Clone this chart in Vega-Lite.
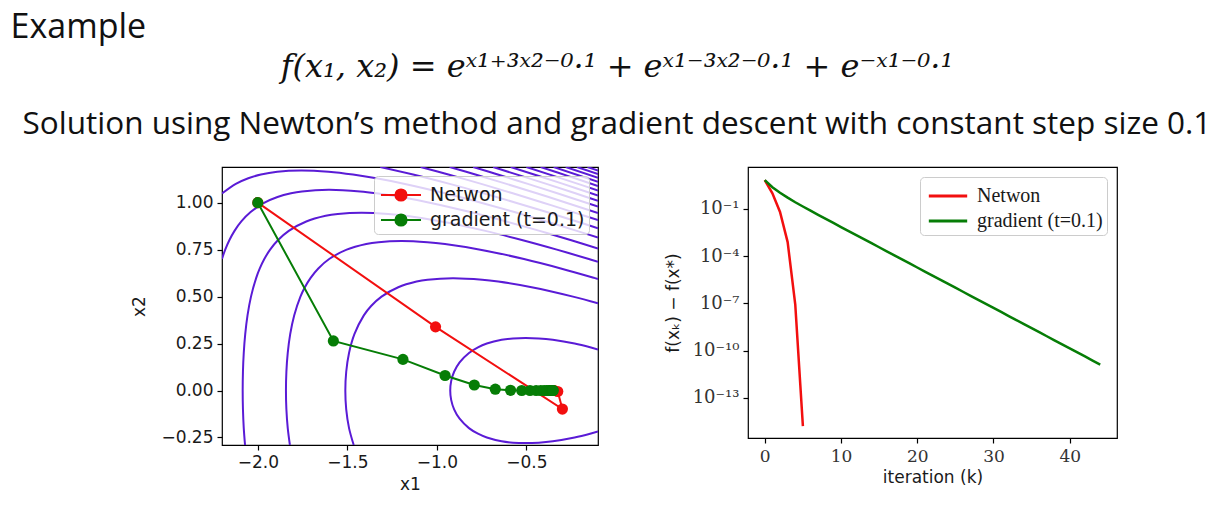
{
"$schema": "https://vega.github.io/schema/vega-lite/v6.json",
"background": "white",
"padding": {"left": 10, "top": 10, "right": 4, "bottom": 4},
"config": {
  "view": {"stroke": "black", "strokeWidth": 1.2},
  "axis": {"domain": false, "grid": false, "tickColor": "black", "tickSize": 5, "tickWidth": 1.2, "labelColor": "#1a1a1a", "titleColor": "#1a1a1a", "titleFontWeight": "normal", "labelFont": "DejaVu Sans", "titleFont": "DejaVu Sans", "labelFontSize": 17, "titleFontSize": 17},
  "title": {"fontWeight": "normal", "color": "#111111"}
},
"datasets": {
  "contours": [
    {"level":3,"i":1,"x1":-0.1,"x2":0.218},{"level":3,"i":2,"x1":-0.144,"x2":0.23},{"level":3,"i":3,"x1":-0.2306,"x2":0.25},{"level":3,"i":4,"x1":-0.3523,"x2":0.27},{"level":3,"i":5,"x1":-0.431,"x2":0.2775},{"level":3,"i":6,"x1":-0.505,"x2":0.28},{"level":3,"i":7,"x1":-0.5747,"x2":0.2775},{"level":3,"i":8,"x1":-0.6382,"x2":0.27},{"level":3,"i":9,"x1":-0.7209,"x2":0.25},{"level":3,"i":10,"x1":-0.7704,"x2":0.23},{"level":3,"i":11,"x1":-0.8206,"x2":0.2},{"level":3,"i":12,"x1":-0.8729,"x2":0.15},{"level":3,"i":13,"x1":-0.9036,"x2":0.1},{"level":3,"i":14,"x1":-0.9201,"x2":0.05},{"level":3,"i":15,"x1":-0.9253,"x2":0},{"level":3,"i":16,"x1":-0.9201,"x2":-0.05},{"level":3,"i":17,"x1":-0.9036,"x2":-0.1},{"level":3,"i":18,"x1":-0.8729,"x2":-0.15},{"level":3,"i":19,"x1":-0.8206,"x2":-0.2},{"level":3,"i":20,"x1":-0.7704,"x2":-0.23},{"level":3,"i":21,"x1":-0.7209,"x2":-0.25},{"level":3,"i":22,"x1":-0.6382,"x2":-0.27},{"level":3,"i":23,"x1":-0.5747,"x2":-0.2775},{"level":3,"i":24,"x1":-0.505,"x2":-0.28},{"level":3,"i":25,"x1":-0.431,"x2":-0.2775},{"level":3,"i":26,"x1":-0.3523,"x2":-0.27},{"level":3,"i":27,"x1":-0.2306,"x2":-0.25},{"level":3,"i":28,"x1":-0.144,"x2":-0.23},{"level":3,"i":29,"x1":-0.1,"x2":-0.218},
    {"level":4.5,"i":1,"x1":-1.4643,"x2":-0.29},{"level":4.5,"i":2,"x1":-1.4905,"x2":-0.2},{"level":4.5,"i":3,"x1":-1.5062,"x2":-0.1},{"level":4.5,"i":4,"x1":-1.5112,"x2":0},{"level":4.5,"i":5,"x1":-1.5062,"x2":0.1},{"level":4.5,"i":6,"x1":-1.4905,"x2":0.2},{"level":4.5,"i":7,"x1":-1.4605,"x2":0.3},{"level":4.5,"i":8,"x1":-1.4079,"x2":0.4},{"level":4.5,"i":9,"x1":-1.3672,"x2":0.45},{"level":4.5,"i":10,"x1":-1.309,"x2":0.5},{"level":4.5,"i":11,"x1":-1.2156,"x2":0.55},{"level":4.5,"i":12,"x1":-1.1132,"x2":0.58},{"level":4.5,"i":13,"x1":-1.0521,"x2":0.59},{"level":4.5,"i":14,"x1":-0.9109,"x2":0.598},{"level":4.5,"i":15,"x1":-0.7465,"x2":0.59},{"level":4.5,"i":16,"x1":-0.6572,"x2":0.58},{"level":4.5,"i":17,"x1":-0.4706,"x2":0.55},{"level":4.5,"i":18,"x1":-0.2396,"x2":0.5},{"level":4.5,"i":19,"x1":-0.1,"x2":0.4643},
    {"level":6,"i":1,"x1":-1.8208,"x2":-0.29},{"level":6,"i":2,"x1":-1.8328,"x2":-0.2},{"level":6,"i":3,"x1":-1.8404,"x2":-0.1},{"level":6,"i":4,"x1":-1.8428,"x2":0},{"level":6,"i":5,"x1":-1.8404,"x2":0.1},{"level":6,"i":6,"x1":-1.8328,"x2":0.2},{"level":6,"i":7,"x1":-1.8191,"x2":0.3},{"level":6,"i":8,"x1":-1.7969,"x2":0.4},{"level":6,"i":9,"x1":-1.7619,"x2":0.5},{"level":6,"i":10,"x1":-1.7371,"x2":0.55},{"level":6,"i":11,"x1":-1.705,"x2":0.6},{"level":6,"i":12,"x1":-1.6621,"x2":0.65},{"level":6,"i":13,"x1":-1.6014,"x2":0.7},{"level":6,"i":14,"x1":-1.5037,"x2":0.75},{"level":6,"i":15,"x1":-1.3946,"x2":0.78},{"level":6,"i":16,"x1":-1.3257,"x2":0.79},{"level":6,"i":17,"x1":-1.1986,"x2":0.7963},{"level":6,"i":18,"x1":-1.053,"x2":0.79},{"level":6,"i":19,"x1":-0.9547,"x2":0.78},{"level":6,"i":20,"x1":-0.7573,"x2":0.75},{"level":6,"i":21,"x1":-0.5135,"x2":0.7},{"level":6,"i":22,"x1":-0.3079,"x2":0.65},{"level":6,"i":23,"x1":-0.122,"x2":0.6},{"level":6,"i":24,"x1":-0.1,"x2":0.5938},
    {"level":7.5,"i":1,"x1":-2.0713,"x2":-0.29},{"level":7.5,"i":2,"x1":-2.0785,"x2":-0.2},{"level":7.5,"i":3,"x1":-2.083,"x2":-0.1},{"level":7.5,"i":4,"x1":-2.0845,"x2":0},{"level":7.5,"i":5,"x1":-2.083,"x2":0.1},{"level":7.5,"i":6,"x1":-2.0785,"x2":0.2},{"level":7.5,"i":7,"x1":-2.0703,"x2":0.3},{"level":7.5,"i":8,"x1":-2.0575,"x2":0.4},{"level":7.5,"i":9,"x1":-2.0381,"x2":0.5},{"level":7.5,"i":10,"x1":-2.0089,"x2":0.6},{"level":7.5,"i":11,"x1":-1.9889,"x2":0.65},{"level":7.5,"i":12,"x1":-1.9637,"x2":0.7},{"level":7.5,"i":13,"x1":-1.9313,"x2":0.75},{"level":7.5,"i":14,"x1":-1.8881,"x2":0.8},{"level":7.5,"i":15,"x1":-1.8271,"x2":0.85},{"level":7.5,"i":16,"x1":-1.7294,"x2":0.9},{"level":7.5,"i":17,"x1":-1.6209,"x2":0.93},{"level":7.5,"i":18,"x1":-1.5533,"x2":0.94},{"level":7.5,"i":19,"x1":-1.4217,"x2":0.9467},{"level":7.5,"i":20,"x1":-1.2702,"x2":0.94},{"level":7.5,"i":21,"x1":-1.1729,"x2":0.93},{"level":7.5,"i":22,"x1":-0.9751,"x2":0.9},{"level":7.5,"i":23,"x1":-0.729,"x2":0.85},{"level":7.5,"i":24,"x1":-0.5201,"x2":0.8},{"level":7.5,"i":25,"x1":-0.3298,"x2":0.75},{"level":7.5,"i":26,"x1":-0.1512,"x2":0.7},{"level":7.5,"i":27,"x1":-0.1,"x2":0.6852},
    {"level":9,"i":1,"x1":-2.2,"x2":0.7012},{"level":9,"i":2,"x1":-2.182,"x2":0.75},{"level":9,"i":3,"x1":-2.1591,"x2":0.8},{"level":9,"i":4,"x1":-2.1301,"x2":0.85},{"level":9,"i":5,"x1":-2.0921,"x2":0.9},{"level":9,"i":6,"x1":-2.0401,"x2":0.95},{"level":9,"i":7,"x1":-1.9625,"x2":1.0},{"level":9,"i":8,"x1":-1.89,"x2":1.03},{"level":9,"i":9,"x1":-1.8144,"x2":1.05},{"level":9,"i":10,"x1":-1.7538,"x2":1.06},{"level":9,"i":11,"x1":-1.6041,"x2":1.0688},{"level":9,"i":12,"x1":-1.428,"x2":1.06},{"level":9,"i":13,"x1":-1.3375,"x2":1.05},{"level":9,"i":14,"x1":-1.202,"x2":1.03},{"level":9,"i":15,"x1":-1.0399,"x2":1.0},{"level":9,"i":16,"x1":-0.8132,"x2":0.95},{"level":9,"i":17,"x1":-0.6124,"x2":0.9},{"level":9,"i":18,"x1":-0.426,"x2":0.85},{"level":9,"i":19,"x1":-0.2491,"x2":0.8},{"level":9,"i":20,"x1":-0.1,"x2":0.7563},
    {"level":10.5,"i":1,"x1":-2.2,"x2":1.0486},{"level":10.5,"i":2,"x1":-2.1228,"x2":1.1},{"level":10.5,"i":3,"x1":-2.0533,"x2":1.13},{"level":10.5,"i":4,"x1":-1.9827,"x2":1.15},{"level":10.5,"i":5,"x1":-1.8915,"x2":1.165},{"level":10.5,"i":6,"x1":-1.7582,"x2":1.1719},{"level":10.5,"i":7,"x1":-1.6045,"x2":1.165},{"level":10.5,"i":8,"x1":-1.4683,"x2":1.15},{"level":10.5,"i":9,"x1":-1.3379,"x2":1.13},{"level":10.5,"i":10,"x1":-1.1785,"x2":1.1},{"level":10.5,"i":11,"x1":-0.9536,"x2":1.05},{"level":10.5,"i":12,"x1":-0.7533,"x2":1.0},{"level":10.5,"i":13,"x1":-0.5667,"x2":0.95},{"level":10.5,"i":14,"x1":-0.3891,"x2":0.9},{"level":10.5,"i":15,"x1":-0.2181,"x2":0.85},{"level":10.5,"i":16,"x1":-0.1,"x2":0.8146},
    {"level":12,"i":1,"x1":-1.316,"x2":1.19},{"level":12,"i":2,"x1":-1.1328,"x2":1.15},{"level":12,"i":3,"x1":-0.9281,"x2":1.1},{"level":12,"i":4,"x1":-0.7387,"x2":1.05},{"level":12,"i":5,"x1":-0.559,"x2":1.0},{"level":12,"i":6,"x1":-0.386,"x2":0.95},{"level":12,"i":7,"x1":-0.2181,"x2":0.9},{"level":12,"i":8,"x1":-0.1,"x2":0.8641},
    {"level":13.5,"i":1,"x1":-1.0906,"x2":1.19},{"level":13.5,"i":2,"x1":-0.9357,"x2":1.15},{"level":13.5,"i":3,"x1":-0.752,"x2":1.1},{"level":13.5,"i":4,"x1":-0.5761,"x2":1.05},{"level":13.5,"i":5,"x1":-0.4058,"x2":1.0},{"level":13.5,"i":6,"x1":-0.2397,"x2":0.95},{"level":13.5,"i":7,"x1":-0.1,"x2":0.9071},
    {"level":15,"i":1,"x1":-0.9284,"x2":1.19},{"level":15,"i":2,"x1":-0.7848,"x2":1.15},{"level":15,"i":3,"x1":-0.6111,"x2":1.1},{"level":15,"i":4,"x1":-0.4424,"x2":1.05},{"level":15,"i":5,"x1":-0.2774,"x2":1.0},{"level":15,"i":6,"x1":-0.1,"x2":0.9452},
    {"level":16.5,"i":1,"x1":-0.7972,"x2":1.19},{"level":16.5,"i":2,"x1":-0.6598,"x2":1.15},{"level":16.5,"i":3,"x1":-0.492,"x2":1.1},{"level":16.5,"i":4,"x1":-0.3276,"x2":1.05},{"level":16.5,"i":5,"x1":-0.1,"x2":0.9794},
    {"level":18,"i":1,"x1":-0.6856,"x2":1.19},{"level":18,"i":2,"x1":-0.388,"x2":1.1},{"level":18,"i":3,"x1":-0.2266,"x2":1.05},{"level":18,"i":4,"x1":-0.1,"x2":1.0103},
    {"level":19.5,"i":1,"x1":-0.5876,"x2":1.19},{"level":19.5,"i":2,"x1":-0.2953,"x2":1.1},{"level":19.5,"i":3,"x1":-0.1,"x2":1.0386},
    {"level":21,"i":1,"x1":-0.5,"x2":1.19},{"level":21,"i":2,"x1":-0.2116,"x2":1.1},{"level":21,"i":3,"x1":-0.1,"x2":1.0647},
    {"level":22.5,"i":1,"x1":-0.4205,"x2":1.19},{"level":22.5,"i":2,"x1":-0.2612,"x2":1.14},{"level":22.5,"i":3,"x1":-0.1,"x2":1.0889},
    {"level":24,"i":1,"x1":-0.3476,"x2":1.19},{"level":24,"i":2,"x1":-0.1,"x2":1.1114},
    {"level":25.5,"i":1,"x1":-0.2802,"x2":1.19},{"level":25.5,"i":2,"x1":-0.1,"x2":1.1325},
    {"level":27,"i":1,"x1":-0.2175,"x2":1.19},{"level":27,"i":2,"x1":-0.1,"x2":1.1524},
    {"level":28.5,"i":1,"x1":-0.1588,"x2":1.19},{"level":28.5,"i":2,"x1":-0.1,"x2":1.1711}
  ],
  "paths": [
    {"method":"Netwon","k":0,"x1":-2.0,"x2":1.0},{"method":"Netwon","k":1,"x1":-1.0073,"x2":0.339},{"method":"Netwon","k":2,"x1":-0.2989,"x2":-0.0987},{"method":"Netwon","k":3,"x1":-0.3249,"x2":-0.0053},{"method":"Netwon","k":4,"x1":-0.3465,"x2":0.0},{"method":"Netwon","k":5,"x1":-0.3466,"x2":0.0},
    {"method":"gradient (t=0.1)","k":0,"x1":-2.0,"x2":1.0},{"method":"gradient (t=0.1)","k":1,"x1":-1.578,"x2":0.264},{"method":"gradient (t=0.1)","k":2,"x1":-1.1893,"x2":0.1657},{"method":"gradient (t=0.1)","k":3,"x1":-0.9541,"x2":0.0801},{"method":"gradient (t=0.1)","k":4,"x1":-0.7909,"x2":0.0294},{"method":"gradient (t=0.1)","k":5,"x1":-0.6735,"x2":0.0071},{"method":"gradient (t=0.1)","k":6,"x1":-0.5884,"x2":0.0012},{"method":"gradient (t=0.1)","k":7,"x1":-0.5259,"x2":0.0001},{"method":"gradient (t=0.1)","k":8,"x1":-0.4797,"x2":0.0},{"method":"gradient (t=0.1)","k":9,"x1":-0.4456,"x2":0.0},{"method":"gradient (t=0.1)","k":10,"x1":-0.4202,"x2":0.0},{"method":"gradient (t=0.1)","k":11,"x1":-0.4014,"x2":0.0},{"method":"gradient (t=0.1)","k":12,"x1":-0.3874,"x2":0.0},{"method":"gradient (t=0.1)","k":13,"x1":-0.3769,"x2":0.0},{"method":"gradient (t=0.1)","k":14,"x1":-0.3691,"x2":0.0},{"method":"gradient (t=0.1)","k":15,"x1":-0.3634,"x2":0.0},{"method":"gradient (t=0.1)","k":16,"x1":-0.3591,"x2":0.0},{"method":"gradient (t=0.1)","k":17,"x1":-0.3559,"x2":0.0},{"method":"gradient (t=0.1)","k":18,"x1":-0.3535,"x2":0.0},{"method":"gradient (t=0.1)","k":19,"x1":-0.3517,"x2":0.0},{"method":"gradient (t=0.1)","k":20,"x1":-0.3504,"x2":0.0}
  ],
  "conv": [
    {"method":"Netwon","k":0,"gap":6.592},{"method":"Netwon","k":1,"gap":0.9511},{"method":"Netwon","k":2,"gap":0.06211},{"method":"Netwon","k":3,"gap":0.000764},{"method":"Netwon","k":4,"gap":8.1e-8},{"method":"Netwon","k":5,"gap":1.6e-15},
    {"method":"gradient (t=0.1)","k":0,"gap":6.592},{"method":"gradient (t=0.1)","k":1,"gap":2.322},{"method":"gradient (t=0.1)","k":2,"gap":1.0332},{"method":"gradient (t=0.1)","k":3,"gap":0.5072},{"method":"gradient (t=0.1)","k":4,"gap":0.258},{"method":"gradient (t=0.1)","k":5,"gap":0.1383},{"method":"gradient (t=0.1)","k":6,"gap":0.07515},{"method":"gradient (t=0.1)","k":7,"gap":0.04123},{"method":"gradient (t=0.1)","k":8,"gap":0.02271},{"method":"gradient (t=0.1)","k":9,"gap":0.01253},{"method":"gradient (t=0.1)","k":10,"gap":0.00692},{"method":"gradient (t=0.1)","k":11,"gap":0.00383},{"method":"gradient (t=0.1)","k":12,"gap":0.00212},{"method":"gradient (t=0.1)","k":13,"gap":0.001175},{"method":"gradient (t=0.1)","k":14,"gap":0.00065},{"method":"gradient (t=0.1)","k":15,"gap":0.00036},{"method":"gradient (t=0.1)","k":16,"gap":0.000199},{"method":"gradient (t=0.1)","k":17,"gap":0.00011},{"method":"gradient (t=0.1)","k":18,"gap":6.11e-5},{"method":"gradient (t=0.1)","k":19,"gap":3.38e-5},{"method":"gradient (t=0.1)","k":20,"gap":1.87e-5},{"method":"gradient (t=0.1)","k":21,"gap":1.035e-5},{"method":"gradient (t=0.1)","k":22,"gap":5.73e-6},{"method":"gradient (t=0.1)","k":23,"gap":3.18e-6},{"method":"gradient (t=0.1)","k":24,"gap":1.76e-6},{"method":"gradient (t=0.1)","k":25,"gap":9.73e-7},{"method":"gradient (t=0.1)","k":26,"gap":5.38e-7},{"method":"gradient (t=0.1)","k":27,"gap":2.98e-7},{"method":"gradient (t=0.1)","k":28,"gap":1.65e-7},{"method":"gradient (t=0.1)","k":29,"gap":9.14e-8},{"method":"gradient (t=0.1)","k":30,"gap":5.06e-8},{"method":"gradient (t=0.1)","k":31,"gap":2.8e-8},{"method":"gradient (t=0.1)","k":32,"gap":1.55e-8},{"method":"gradient (t=0.1)","k":33,"gap":8.59e-9},{"method":"gradient (t=0.1)","k":34,"gap":4.75e-9},{"method":"gradient (t=0.1)","k":35,"gap":2.63e-9},{"method":"gradient (t=0.1)","k":36,"gap":1.46e-9},{"method":"gradient (t=0.1)","k":37,"gap":8.05e-10},{"method":"gradient (t=0.1)","k":38,"gap":4.47e-10},{"method":"gradient (t=0.1)","k":39,"gap":2.47e-10},{"method":"gradient (t=0.1)","k":40,"gap":1.37e-10},{"method":"gradient (t=0.1)","k":41,"gap":7.57e-11},{"method":"gradient (t=0.1)","k":42,"gap":4.19e-11},{"method":"gradient (t=0.1)","k":43,"gap":2.32e-11},{"method":"gradient (t=0.1)","k":44,"gap":1.29e-11}
  ]
},
"title": {"text": "Example", "anchor": "start", "dx": -12, "font": "Open Sans", "fontSize": 34, "offset": 6},
"vconcat": [
  {
    "title": {"text": "f(x₁, x₂) = eˣ¹⁺³ˣ²⁻⁰·¹ + eˣ¹⁻³ˣ²⁻⁰·¹ + e⁻ˣ¹⁻⁰·¹", "subtitle": "Solution using Newton’s method and gradient descent with constant step size 0.1", "anchor": "middle", "dx": -7, "font": "DejaVu Serif", "fontStyle": "italic", "fontSize": 32, "subtitleFont": "Open Sans", "subtitleFontSize": 31.5, "subtitleColor": "#111111", "subtitlePadding": 25, "offset": 25},
    "spacing": 64,
    "resolve": {"scale": {"color": "independent", "x": "independent", "y": "independent"}, "legend": {"color": "independent"}},
    "hconcat": [
      {
        "width": 376, "height": 278,
        "layer": [
          {
            "data": {"name": "contours"},
            "mark": {"type": "line", "color": "#5a1bd6", "strokeWidth": 2, "interpolate": "catmull-rom", "clip": true},
            "encoding": {
              "x": {"field": "x1", "type": "quantitative", "scale": {"domain": [-2.2, -0.1], "nice": false, "zero": false}, "axis": {"values": [-2, -1.5, -1, -0.5], "format": ".1f", "title": "x1", "labelPadding": 4, "titlePadding": 6}},
              "y": {"field": "x2", "type": "quantitative", "scale": {"domain": [-0.29, 1.19], "nice": false, "zero": false}, "axis": {"values": [-0.25, 0, 0.25, 0.5, 0.75, 1], "format": ".2f", "title": "x2", "labelPadding": 4, "titlePadding": 12}},
              "detail": {"field": "level", "type": "nominal"},
              "order": {"field": "i", "type": "quantitative"}
            }
          },
          {
            "data": {"name": "paths"},
            "mark": {"type": "line", "strokeWidth": 2, "clip": true},
            "encoding": {
              "x": {"field": "x1", "type": "quantitative"},
              "y": {"field": "x2", "type": "quantitative"},
              "color": {"field": "method", "type": "nominal", "scale": {"domain": ["Netwon", "gradient (t=0.1)"], "range": ["#f20f0f", "#067d06"]},
                "legend": {"title": null, "orient": "top-right", "offset": 9, "padding": 4, "fillColor": "rgba(255,255,255,0.8)", "strokeColor": "#cccccc", "cornerRadius": 4, "labelFont": "DejaVu Sans", "labelFontSize": 19, "labelColor": "#1a1a1a", "symbolOffset": 8, "labelOffset": 14, "rowPadding": 0, "symbolType": "M-1.43,0H1.43M-0.4,0A0.4,0.4,0,1,0,0.4,0A0.4,0.4,0,1,0,-0.4,0Z", "symbolSize": 784, "symbolStrokeWidth": 2,
                  "encode": {"symbols": {"update": {"fill": [{"test": "datum.value === 'Netwon'", "value": "#f20f0f"}, {"value": "#067d06"}], "stroke": [{"test": "datum.value === 'Netwon'", "value": "#f20f0f"}, {"value": "#067d06"}], "opacity": {"value": 1}}}}}},
              "order": {"field": "k", "type": "quantitative"}
            }
          },
          {
            "data": {"name": "paths"},
            "mark": {"type": "point", "filled": true, "size": 125, "opacity": 1, "clip": true},
            "encoding": {
              "x": {"field": "x1", "type": "quantitative"},
              "y": {"field": "x2", "type": "quantitative"},
              "color": {"field": "method", "type": "nominal"}
            }
          }
        ]
      },
      {
        "width": 369, "height": 271,
        "data": {"name": "conv"},
        "mark": {"type": "line", "strokeWidth": 2.5, "clip": true},
        "encoding": {
          "x": {"field": "k", "type": "quantitative", "scale": {"domain": [-2.2, 46.2], "nice": false, "zero": false}, "axis": {"values": [0, 10, 20, 30, 40], "labelFont": "DejaVu Serif", "labelFontSize": 17, "labelColor": "#333333", "title": "iteration (k)", "labelPadding": 5, "titlePadding": 5}},
          "y": {"field": "gap", "type": "quantitative", "scale": {"type": "log", "domain": [2.8e-16, 44.7], "nice": false}, "axis": {"values": [0.1, 0.0001, 1e-7, 1e-10, 1e-13], "labelExpr": "datum.value > 0.01 ? '10⁻¹' : datum.value > 1e-5 ? '10⁻⁴' : datum.value > 1e-8 ? '10⁻⁷' : datum.value > 1e-11 ? '10⁻¹⁰' : '10⁻¹³'", "labelFont": "DejaVu Serif", "labelFontSize": 18, "labelColor": "#333333", "title": "f(xₖ) − f(x*)", "labelPadding": 4, "titlePadding": 10}},
          "color": {"field": "method", "type": "nominal", "scale": {"domain": ["Netwon", "gradient (t=0.1)"], "range": ["#f20f0f", "#067d06"]},
            "legend": {"title": null, "orient": "top-right", "offset": 10, "padding": 4, "fillColor": "rgba(255,255,255,0.8)", "strokeColor": "#cccccc", "cornerRadius": 4, "labelFont": "Liberation Serif", "labelFontSize": 20, "labelColor": "#1a1a1a", "symbolOffset": 9, "labelOffset": 14, "rowPadding": 0, "symbolType": "M-1.45,0H1.45", "symbolSize": 700, "symbolStrokeWidth": 3}},
          "order": {"field": "k", "type": "quantitative"}
        }
      }
    ]
  }
]
}
